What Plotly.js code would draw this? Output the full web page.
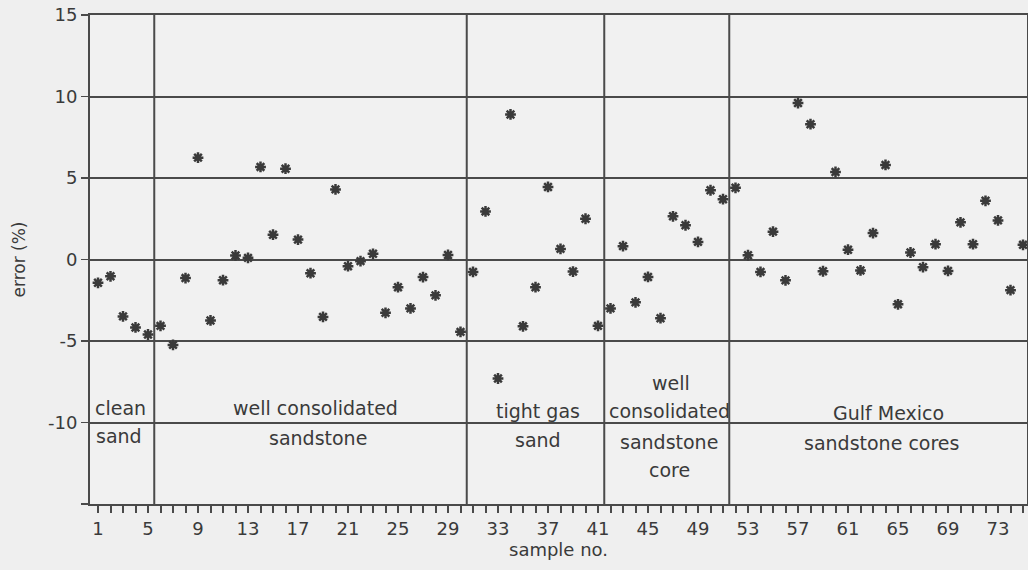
<!DOCTYPE html>
<html>
<head>
<meta charset="utf-8">
<script src="https://cdn.plot.ly/plotly-3.0.1.min.js"></script>
<style>
html,body{margin:0;padding:0;background:#efefef;}
#chart{width:1028px;height:570px;}
</style>
</head>
<body>
<div id="chart"></div>
<script>
// sample numbers
const sampleNo = [];
for (let i = 1; i <= 75; i++) sampleNo.push(i);

// error (%)
const errorPct = [
  -1.43, -1.03, -3.49, -4.17, -4.6,            // 1-5 clean sand
  -4.07, -5.24, -1.14, 6.25, -3.74,            // 6-10
  -1.27, 0.25, 0.1, 5.68, 1.52,                // 11-15
  5.57, 1.22, -0.84, -3.52, 4.3,               // 16-20
  -0.41, -0.1, 0.35, -3.27, -1.7,              // 21-25
  -3.0, -1.08, -2.2, 0.28, -4.44,              // 26-30
  -0.76, 2.95, -7.3, 8.9, -4.1,                // 31-35 tight gas sand
  -1.7, 4.45, 0.65, -0.74, 2.5,                // 36-40
  -4.07,                                       // 41
  -3.0, 0.82, -2.63, -1.07, -3.6,              // 42-46 well consol. core
  2.65, 2.1, 1.08, 4.25, 3.7,                  // 47-51
  4.4, 0.26, -0.76, 1.71, -1.28,               // 52-56 Gulf Mexico
  9.6, 8.3, -0.72, 5.37, 0.6,                  // 57-61
  -0.67, 1.62, 5.8, -2.75, 0.43,               // 62-66
  -0.47, 0.94, -0.7, 2.28, 0.94,               // 67-71
  3.6, 2.4, -1.88, 0.9                         // 72-75
];

// group boundaries (between samples) and group labels
const groupBounds = [5.5, 30.5, 41.5, 51.5];
const groupLabels = [
  {text: "clean", x: 2.8, y: -9.1},
  {text: "sand", x: 2.7, y: -10.8},
  {text: "well consolidated", x: 18.4, y: -9.1},
  {text: "sandstone", x: 18.6, y: -10.95},
  {text: "tight gas", x: 36.2, y: -9.3},
  {text: "sand", x: 36.2, y: -11.05},
  {text: "well", x: 46.8, y: -7.6},
  {text: "consolidated", x: 46.7, y: -9.3},
  {text: "sandstone", x: 46.7, y: -11.2},
  {text: "core", x: 46.7, y: -12.9},
  {text: "Gulf Mexico", x: 64.2, y: -9.4},
  {text: "sandstone cores", x: 63.7, y: -11.25}
];

// tick labels
const xTickVals = [1, 5, 9, 13, 17, 21, 25, 29, 33, 37, 41, 45, 49, 53, 57, 61, 65, 69, 73];
const xTickText = ["1", "5", "9", "13", "17", "21", "25", "29", "33", "37", "41", "45", "49", "53", "57", "61", "65", "69", "73"];
const yTickVals = [-15, -10, -5, 0, 5, 10, 15];
const yTickText = ["", "-10", "-5", "0", "5", "10", "15"];

const lineCol = "#4a4a4a";
const textCol = "#3a3a3a";
const font = "DejaVu Sans, Verdana, sans-serif";

const shapes = groupBounds.map(b => ({
  type: "line", xref: "x", yref: "paper", x0: b, x1: b, y0: 0, y1: 1,
  line: {color: lineCol, width: 2}
}));

const annotations = groupLabels.map(g => ({
  text: g.text, x: g.x, y: g.y, xref: "x", yref: "y",
  showarrow: false, font: {family: font, size: 19, color: textCol}
}));

const trace = {
  x: sampleNo, y: errorPct, type: "scatter", mode: "markers",
  marker: {symbol: "asterisk-open", size: 9, color: "#3a3a3a",
           line: {color: "#3a3a3a", width: 2.5}},
  hoverinfo: "x+y"
};

const layout = {
  width: 1028, height: 570,
  margin: {l: 90, r: 1, t: 15, b: 66},
  paper_bgcolor: "#efefef",
  plot_bgcolor: "#f1f1f1",
  showlegend: false,
  font: {family: font, color: textCol, size: 18},
  xaxis: {
    range: [0.36, 75.32],
    tickmode: "array", tickvals: xTickVals, ticktext: xTickText,
    ticks: "outside", ticklen: 7, tickwidth: 2, tickcolor: lineCol,
    minor: {dtick: 1, tick0: 1, ticks: "outside", ticklen: 7, tickwidth: 2, tickcolor: lineCol, showgrid: false},
    showgrid: false, zeroline: false,
    showline: true, linecolor: lineCol, linewidth: 2, mirror: true,
    tickfont: {family: font, size: 18, color: textCol},
    title: {text: "sample no.", font: {family: font, size: 18, color: textCol}, standoff: 4}
  },
  yaxis: {
    range: [-15, 15],
    tickmode: "array", tickvals: yTickVals, ticktext: yTickText,
    ticks: "outside", ticklen: 7, tickwidth: 1.5, tickcolor: lineCol,
    showgrid: true, gridcolor: lineCol, gridwidth: 2,
    zeroline: false,
    showline: true, linecolor: lineCol, linewidth: 2, mirror: true,
    tickfont: {family: font, size: 18, color: textCol},
    title: {text: "error (%)", font: {family: font, size: 17, color: textCol}, standoff: 18}
  },
  shapes: shapes,
  annotations: annotations
};

Plotly.newPlot("chart", [trace], layout, {displayModeBar: false, staticPlot: true});
</script>
</body>
</html>
